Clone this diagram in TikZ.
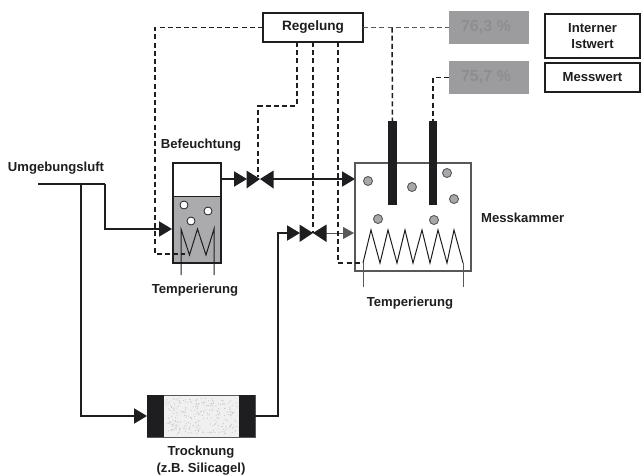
\documentclass[tikz,border=0pt]{standalone}
\usepackage{fontspec}
\setmainfont{Liberation Sans}
\usetikzlibrary{arrows.meta}
\definecolor{ink}{HTML}{1E1E20}
\definecolor{water}{HTML}{ABABAD}
\definecolor{disp}{HTML}{9C9C9E}
\definecolor{disptext}{HTML}{8E8E90}
\definecolor{bub}{HTML}{A8A8AA}
\definecolor{wall}{HTML}{58585A}
\tikzset{
  lbl/.style={font=\bfseries\fontsize{13.1}{15}\selectfont,text=ink,inner sep=0pt,align=center},
  captext/.style={lbl,yshift=-1.5pt},
  boxn/.style={draw=ink,line width=1.1pt,fill=white,inner sep=0pt,outer sep=0pt},
  dispbox/.style={fill=disp,inner sep=0pt,outer sep=0pt,text=disptext,font=\bfseries\fontsize{16}{18}\selectfont},
  ctl/.style={draw=ink,line width=1.5pt,dash pattern=on 5pt off 3.2pt},
  flow/.style={draw=ink,line width=2pt,-{Triangle[length=13pt,width=15pt]}},
  pipe/.style={draw=ink,line width=2pt},
  probe/.style={fill=ink,inner sep=0pt,outer sep=0pt,minimum width=9pt,minimum height=84pt},
  bubw/.style={circle,draw=ink,line width=0.8pt,fill=white,minimum size=8pt,inner sep=0pt},
  bubg/.style={circle,draw=wall,line width=0.9pt,fill=bub,minimum size=9pt,inner sep=0pt},
  valvepart/.style={fill=ink},
}
\begin{document}
\begin{tikzpicture}[x=1pt,y=-1pt]
\useasboundingbox (0,0) rectangle (641,475);
\fill[white] (0,0) rectangle (641,475);

% coordinates
\coordinate (v1) at (260,179);
\coordinate (v2) at (313,233);
\coordinate (src) at (38,184);
\coordinate (j1) at (81,184);
\coordinate (j2) at (105,184);

% Messkammer
\node[draw=wall,line width=1.1pt,fill=white,inner sep=0pt,outer sep=0pt,minimum width=116pt,minimum height=108pt] (kammer) at (413,217) {};
\node[probe] (p1) at (392.5,163) {};
\node[probe,minimum width=8pt] (p2) at (433,163) {};
\foreach \n/\x/\y in {g1/368/181,g2/412/187,g3/447/173,g4/454/199,g5/378/219,g6/434/220}
  \node[bubg] (\n) at (\x,\y) {};
\draw[draw=ink,line width=1pt,line join=miter]
  (363,263) -- (371,230) -- (380,263) -- (388,230) -- (397,263) -- (405,230) -- (413,263)
  -- (422,230) -- (430,263) -- (438,230) -- (447,263) -- (454,230) -- (463,263);
\draw[draw=wall,line width=1pt] (363,263) -- (363,287) (463,263) -- (463,287);

% Befeuchtung
\node[boxn,minimum width=48pt,minimum height=100pt] (befeuchter) at (197,213) {};
\fill[water] (174,196) rectangle (220.5,262.5);
\draw[ink,line width=1pt] (173,196) -- (221,196);
\draw[ink,line width=1.1pt] (173,163) rectangle (221,263);
\node[bubw] (w1) at (184,205) {};
\node[bubw] (w2) at (208,211) {};
\node[bubw] (w3) at (191,221) {};
\draw[ink,line width=1pt,line join=miter] (181,275) -- (181,229) -- (189.5,255) -- (197.5,229) -- (206,255) -- (214,229) -- (214,275);

% Trocknung
\node[draw=wall,line width=1pt,fill=black!6,inner sep=0pt,outer sep=0pt,minimum width=108pt,minimum height=42pt] (trock) at (201,416) {};
\pgfmathsetseed{7}
\foreach \i in {1,...,260}{
  \pgfmathsetmacro{\dx}{166+rnd*72}
  \pgfmathsetmacro{\dy}{398+rnd*36}
  \fill[black!22] (\dx,\dy) circle (0.6);
}
\fill[ink] (147,395) rectangle (164,437);
\fill[ink] (239,395) rectangle (255,437);

% Flow lines
\draw[pipe] (src) -- (j2);
\draw[flow] (j2) -- (105,229) -- (172,229);
\draw[flow] (j1) |- (trock.west);
\draw[flow] (trock.east) -- (278,416) -- (278,233) -- (300,233);
\draw[flow] (befeuchter.east |- v1) -- (247,179);
\draw[flow] (273,179) -- (kammer.west |- v1);
\draw[draw=wall,line width=1pt,-{Triangle[length=11pt,width=12pt]},color=wall] (326,233) -- (354,233);

% Valves
\fill[valvepart] (246.5,170.5) -- (260,179) -- (246.5,188.5) -- cycle;
\fill[valvepart] (273.5,170.5) -- (260,179) -- (273.5,188.5) -- cycle;
\fill[valvepart] (299.5,224.5) -- (313,233) -- (299.5,242) -- cycle;
\fill[valvepart] (326.5,224.5) -- (313,233) -- (326.5,242) -- cycle;

% Regelung and displays
\node[boxn,minimum width=100pt,minimum height=29pt,font=\bfseries\fontsize{13.6}{15}\selectfont,text=ink] (regelung) at (313,27.5) {\raisebox{-1.5pt}{Regelung}};
\node[dispbox,minimum width=80pt,minimum height=33pt] (d1) at (489,27.5) {\raisebox{-2pt}{\hspace*{-6pt}76,3 \%}};
\node[dispbox,minimum width=80pt,minimum height=33pt] (d2) at (489,77.5) {\raisebox{-2pt}{\hspace*{-6pt}75,7 \%}};
\node[boxn,minimum width=95pt,minimum height=44pt,lbl] (leg1) at (592.5,36) {\raisebox{-1pt}{Interner}\\[1.5pt]\raisebox{-1pt}{Istwert}};
\node[boxn,minimum width=95pt,minimum height=29pt,lbl] (leg2) at (592.5,77.5) {\raisebox{-1.5pt}{Messwert}};

% Control lines
\draw[ctl] (regelung.west) -- (155,27.5) -- (155,254) -- (185,254);
\draw[ctl] (regelung.south -| 297,0) -- (297,106) -- (258,106) -- (258,177);
\draw[ctl] (regelung.south) -- (v2);
\draw[ctl] (regelung.south -| 338,0) -- (338,263) -- (363,263);
\draw[ctl,draw=wall] (regelung.east) -- (d1.west);
\draw[ctl] (392,27.5) -- (p1.north);
\draw[ctl,line width=1.2pt] (d2.west) -- (433,77.5) -- (p2.north);

% Labels
\node[captext] (t1) at (201,144) {Befeuchtung};
\node[captext] (t2) at (56,167) {Umgebungsluft};
\node[captext] (t3) at (195,289) {Temperierung};
\node[captext] (t4) at (410,302) {Temperierung};
\node[captext,anchor=west] (t5) at (481,216) {Messkammer};
\node[captext] (t6) at (201,451) {Trocknung};
\node[captext] (t7) at (201,468) {(z.B. Silicagel)};
\end{tikzpicture}
\end{document}
